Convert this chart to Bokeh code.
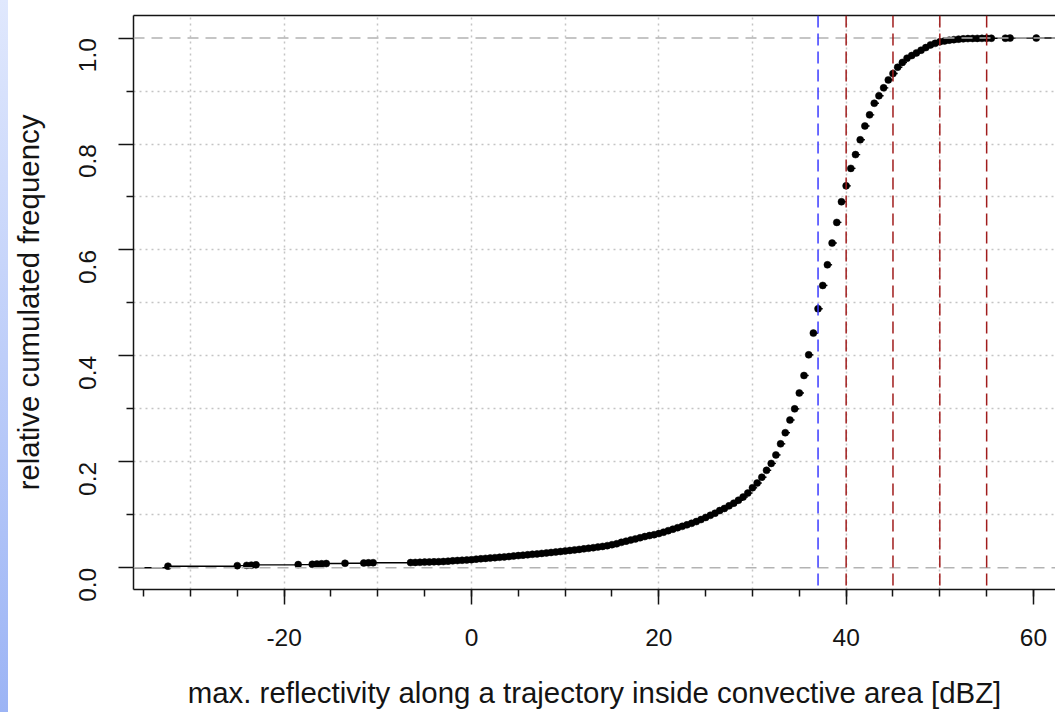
import math
from bokeh.plotting import figure
from bokeh.models import Range1d, FixedTicker, PrintfTickFormatter, Span, LinearAxis
from bokeh.embed import file_html
from bokeh.resources import INLINE

reflectivity = [
    -32.4, -25.0, -24.0, -23.5, -23.0, -18.5, -17.0, -16.5, -16.0, -15.5,
    -13.5, -11.5, -11.0, -10.5,
    -6.5, -6.0, -5.5, -5.0, -4.5, -4.0, -3.5, -3.0, -2.5, -2.0, -1.5, -1.0, -0.5,
    0.0, 0.5, 1.0, 1.5, 2.0, 2.5, 3.0, 3.5, 4.0, 4.5, 5.0, 5.5, 6.0, 6.5, 7.0,
    7.5, 8.0, 8.5, 9.0, 9.5, 10.0, 10.5, 11.0, 11.5, 12.0, 12.5, 13.0, 13.5,
    14.0, 14.5, 15.0, 15.5, 16.0, 16.5, 17.0, 17.5, 18.0, 18.5, 19.0, 19.5,
    20.0, 20.5, 21.0, 21.5, 22.0, 22.5, 23.0, 23.5, 24.0, 24.5, 25.0, 25.5,
    26.0, 26.5, 27.0, 27.5, 28.0, 28.5, 29.0, 29.5, 30.0, 30.5, 31.0, 31.5,
    32.0, 32.5, 33.0, 33.5, 34.0, 34.5, 35.0, 35.5, 36.0, 36.5, 37.0, 37.5,
    38.0, 38.5, 39.0, 39.5, 40.0, 40.5, 41.0, 41.5, 42.0, 42.5, 43.0, 43.5,
    44.0, 44.5, 45.0, 45.5, 46.0, 46.5, 47.0, 47.5, 48.0, 48.5, 49.0, 49.5,
    50.0, 50.5, 51.0, 51.5, 52.0, 52.5, 53.0, 53.5, 54.0, 54.5, 55.0, 55.5,
    57.0, 57.5, 60.3,
]
cum_freq = [
    0.0030, 0.0040, 0.0045, 0.0050, 0.0055, 0.0060, 0.0065, 0.0070, 0.0075, 0.0080,
    0.0085, 0.0090, 0.0093, 0.0096,
    0.0098, 0.0101, 0.0104, 0.0107, 0.0110, 0.0112, 0.0115, 0.0118, 0.0125, 0.0131,
    0.0137, 0.0142, 0.0147,
    0.0153, 0.0163, 0.0170, 0.0177, 0.0184, 0.0191, 0.0198, 0.0205, 0.0212, 0.0222,
    0.0230, 0.0238, 0.0246, 0.0254, 0.0262,
    0.0271, 0.0280, 0.0289, 0.0298, 0.0307, 0.0316, 0.0327, 0.0337, 0.0347, 0.0357,
    0.0368, 0.0379, 0.0391,
    0.0403, 0.0418, 0.0436, 0.0453, 0.0480, 0.0502, 0.0523, 0.0545, 0.0567, 0.0589,
    0.0608, 0.0625,
    0.0645, 0.0672, 0.0700, 0.0728, 0.0756, 0.0782, 0.0810, 0.0840, 0.0872, 0.0910,
    0.0950, 0.0990,
    0.1030, 0.1080, 0.1120, 0.1170, 0.1220, 0.1275, 0.1335, 0.1410, 0.1510, 0.1600,
    0.1710, 0.1840,
    0.1970, 0.2130, 0.2340, 0.2550, 0.2790, 0.3000, 0.3300, 0.3630, 0.4020, 0.4430,
    0.4890, 0.5330,
    0.5720, 0.6130, 0.6520, 0.6910, 0.7210, 0.7540, 0.7800, 0.8080, 0.8340, 0.8550,
    0.8770, 0.8910,
    0.9060, 0.9210, 0.9330, 0.9450, 0.9540, 0.9620, 0.9670, 0.9720, 0.9770, 0.9820,
    0.9870, 0.9900,
    0.9930, 0.9945, 0.9960, 0.9970, 0.9980, 0.9985, 0.9990, 0.9992, 0.9994, 0.9995,
    0.9996, 0.9997,
    0.9998, 0.9999, 1.0000,
]

threshold_blue = [37]
thresholds_red = [40, 45, 50, 55]

x_major_ticks = [-20, 0, 20, 40, 60]
x_minor_ticks = [-35, -30, -25, -20, -15, -10, -5, 0, 5, 10, 15, 20, 25, 30, 35, 40, 45, 50, 55, 60]
y_major_ticks = [0.0, 0.2, 0.4, 0.6, 0.8, 1.0]
y_minor_ticks = [0.1, 0.3, 0.5, 0.7, 0.9]
x_grid_lines = [-30, -20, -10, 0, 10, 20, 30, 40, 50]
y_grid_lines = [0.1, 0.2, 0.3, 0.4, 0.5, 0.6, 0.7, 0.8, 0.9]

x_title = "max. reflectivity along a trajectory inside convective area [dBZ]"
y_title = "relative cumulated frequency"

FONT = "Liberation Sans"
INK = "#141414"

p = figure(
    width=1055, height=712,
    x_range=Range1d(-36.08, 62.35), y_range=Range1d(-0.041, 1.0426),
    output_backend="svg", toolbar_location=None,
    min_border_left=133, min_border_right=0, min_border_top=15, min_border_bottom=123,
    background_fill_color="white", border_fill_color=None,
    outline_line_color=None,
    styles={
        "position": "absolute", "left": "0px", "top": "0px",
        "background": "linear-gradient(to bottom, #e0e8fd, #9cb4f5) left top / 8px 100% no-repeat, #ffffff",
    },
)

# grid
p.xgrid.ticker = FixedTicker(ticks=x_grid_lines)
p.ygrid.ticker = FixedTicker(ticks=y_grid_lines)
for g in (p.xgrid, p.ygrid):
    g.grid_line_color = "#c4c4c4"
    g.grid_line_dash = "2 4"
    g.grid_line_width = 1.5

# step segments (horizontal only, like R's plot.ecdf)
seg_x0 = [-40.0] + reflectivity
seg_x1 = reflectivity + [70.0]
seg_y = [0.0] + cum_freq
p.segment(x0=seg_x0, y0=seg_y, x1=seg_x1, y1=seg_y, line_color="black", line_width=1.4)
p.scatter(reflectivity, cum_freq, size=7, fill_color="black", line_color="black", line_width=0.5)

# 0 / 1 reference lines
for lvl in (0.0, 1.0):
    p.add_layout(Span(location=lvl, dimension="width", line_color="#b3b3b3",
                      line_dash="11 7", line_width=1.5))

for v in threshold_blue:
    p.add_layout(Span(location=v, dimension="height", line_color="#3b3bff",
                      line_dash="12 6", line_width=1.5))
for v in thresholds_red:
    p.add_layout(Span(location=v, dimension="height", line_color="#a01c1c",
                      line_dash="12 6", line_width=1.5))

# axes
xa = p.xaxis[0]
ya = p.yaxis[0]
xa.ticker = FixedTicker(ticks=x_major_ticks, minor_ticks=x_minor_ticks)
ya.ticker = FixedTicker(ticks=y_major_ticks, minor_ticks=y_minor_ticks)
xa.formatter = PrintfTickFormatter(format="%d")
ya.formatter = PrintfTickFormatter(format="%.1f")
ya.major_label_orientation = math.pi / 2
xa.axis_label = x_title
ya.axis_label = y_title
for ax in (xa, ya):
    ax.axis_line_color = INK
    ax.axis_line_width = 1.5
    ax.major_tick_line_color = INK
    ax.major_tick_line_width = 1.5
    ax.minor_tick_line_color = INK
    ax.minor_tick_line_width = 1.5
    ax.major_tick_in = 0
    ax.major_tick_out = 15
    ax.minor_tick_in = 0
    ax.minor_tick_out = 7
    ax.major_label_text_font = FONT
    ax.major_label_text_font_size = "24.5px"
    ax.major_label_text_color = INK
    ax.axis_label_text_font = FONT
    ax.axis_label_text_font_size = "29.4px"
    ax.axis_label_text_font_style = "normal"
    ax.axis_label_text_color = INK
xa.major_label_standoff = 24
xa.axis_label_standoff = 27
ya.major_label_standoff = 31
ya.axis_label_standoff = 23

# top border line
top = LinearAxis(ticker=FixedTicker(ticks=[]), axis_line_color=INK, axis_line_width=1.5,
                 major_tick_line_color=None, minor_tick_line_color=None,
                 major_label_text_font_size="0px", major_label_standoff=0)
p.add_layout(top, "above")

open("out.html", "w").write(file_html(p, INLINE))
